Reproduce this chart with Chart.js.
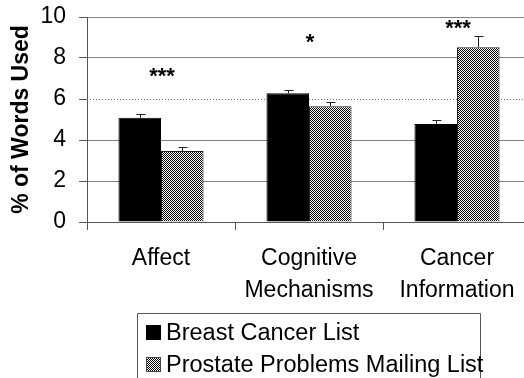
<!DOCTYPE html>
<html><head><meta charset="utf-8">
<style>
html,body{margin:0;padding:0;overflow:hidden;background:#fff;width:524px;height:378px}
#wrap{position:relative;width:540px;height:378px}
canvas{display:block}
</style>
<script src="https://cdn.jsdelivr.net/npm/chart.js@4"></script>
</head><body><div id="wrap"><canvas id="c" width="540" height="378"></canvas></div>
<script>
const categories = ["Affect", ["Cognitive","Mechanisms"], ["Cancer","Information"]];
const seriesNames = ["Breast Cancer List", "Prostate Problems Mailing List"];
const breastValues = [5.08, 6.28, 4.78];
const prostateValues = [3.46, 5.65, 8.53];
const breastErrors = [0.18, 0.15, 0.19];
const prostateErrors = [0.19, 0.20, 0.54];
const sigLabels = ["***", "*", "***"];
const sigLevels = [6.98, 8.63, 9.32];
const yTicks = [0, 2, 4, 6, 8, 10];
const dottedGridValue = 6;

const FONT = "'Liberation Sans', Arial, sans-serif";
const FS = 23;

function makeChecker(ctx){
  const p = document.createElement('canvas');
  p.width = 2; p.height = 2;
  const g = p.getContext('2d');
  g.fillStyle = '#fff'; g.fillRect(0,0,2,2);
  g.fillStyle = '#000'; g.fillRect(0,0,1,1); g.fillRect(1,1,1,1);
  return ctx.createPattern(p, 'repeat');
}

const canvas = document.getElementById('c');
const ctx0 = canvas.getContext('2d');
const checker = makeChecker(ctx0);

const errorsBySeries = [breastErrors, prostateErrors];

const extras = {
  id: 'extras',
  beforeDatasetsDraw(chart){
    const ctx = chart.ctx, y = chart.scales.y, a = chart.chartArea;
    const py = Math.round(y.getPixelForValue(dottedGridValue)) + 0.5;
    ctx.save();
    ctx.strokeStyle = '#777'; ctx.lineWidth = 1; ctx.setLineDash([1,2]);
    ctx.beginPath(); ctx.moveTo(a.left, py); ctx.lineTo(a.right, py); ctx.stroke();
    ctx.restore();
  },
  afterDatasetsDraw(chart){
    const ctx = chart.ctx, y = chart.scales.y, x = chart.scales.x;
    ctx.save();
    ctx.strokeStyle = '#222'; ctx.lineWidth = 1;
    errorsBySeries.forEach((errs, di) => {
      const meta = chart.getDatasetMeta(di);
      meta.data.forEach((bar, i) => {
        const v = chart.data.datasets[di].data[i];
        const top = Math.round(y.getPixelForValue(v + errs[i])) + 0.5;
        const bx = Math.round(bar.x) + 0.5;
        ctx.beginPath();
        ctx.moveTo(bx, bar.y); ctx.lineTo(bx, top);
        ctx.moveTo(bx - 4, top); ctx.lineTo(bx + 5, top);
        ctx.stroke();
      });
    });
    ctx.fillStyle = '#000';
    ctx.font = 'bold 22px ' + FONT;
    ctx.textAlign = 'center'; ctx.textBaseline = 'alphabetic';
    sigLabels.forEach((s, i) => {
      const cx = x.getPixelForValue(i) + 1;
      const cy = y.getPixelForValue(sigLevels[i]);
      ctx.fillText(s, cx, cy + 4);
    });
    ctx.restore();
  },
  afterDraw(chart){
    const ctx = chart.ctx;
    ctx.save();
    ctx.strokeStyle = '#555'; ctx.lineWidth = 1;
    ctx.beginPath();
    ctx.moveTo(137.5, 400); ctx.lineTo(137.5, 313.5); ctx.lineTo(480.5, 313.5); ctx.lineTo(480.5, 400);
    ctx.stroke();
    ctx.fillStyle = '#000'; ctx.fillRect(146, 325, 15, 15);
    ctx.fillStyle = checker; ctx.fillRect(146, 357, 15, 15);
    ctx.strokeStyle = '#444'; ctx.strokeRect(146.5, 357.5, 14, 14);
    ctx.fillStyle = '#000';
    ctx.font = '23.5px ' + FONT;
    ctx.textAlign = 'left'; ctx.textBaseline = 'alphabetic';
    ctx.fillText(seriesNames[0], 166, 340);
    ctx.fillText(seriesNames[1], 166, 372);
    ctx.restore();
  }
};

new Chart(canvas, {
  type: 'bar',
  data: {
    labels: categories,
    datasets: [
      { label: seriesNames[0], data: breastValues, backgroundColor: '#000', borderColor: '#000', borderWidth: 1,
        categoryPercentage: 0.575, barPercentage: 1.0 },
      { label: seriesNames[1], data: prostateValues, backgroundColor: checker, borderColor: '#222', borderWidth: 1,
        categoryPercentage: 0.575, barPercentage: 1.0 }
    ]
  },
  options: {
    responsive: false,
    animation: false,
    devicePixelRatio: 1,
    layout: { padding: { left: 0, right: 9, top: 17, bottom: 0 } },
    plugins: { legend: { display: false }, tooltip: { enabled: false } },
    scales: {
      x: {
        afterFit(s){ s.height = 156; },
        grid: { display: true, offset: true, drawOnChartArea: false, drawTicks: true, tickLength: 8, color: '#555', tickColor: '#555' },
        border: { display: true, color: '#555' },
        ticks: { color: '#000', font: { family: FONT, size: FS, lineHeight: 1.38 }, padding: 13, maxRotation: 0, autoSkip: false }
      },
      y: {
        min: 0, max: 10,
        afterFit(s){ s.width = 87; s.paddingTop = 0; s.paddingBottom = 0; },
        afterBuildTicks(s){ s.ticks = yTicks.map(v => ({ value: v })); },
        grid: { color: c => (c.tick && c.tick.value === dottedGridValue) ? 'rgba(0,0,0,0)' : '#808080', tickColor: '#555', tickLength: 8, drawTicks: true },
        border: { display: true, color: '#555' },
        ticks: { color: '#000', font: { family: FONT, size: FS }, padding: 13 },
        title: { display: true, text: '% of Words Used', color: '#000', font: { family: FONT, size: FS, weight: 'bold' }, padding: { top: 8, bottom: 0 } }
      }
    }
  },
  plugins: [extras]
});
</script>
</body></html>
